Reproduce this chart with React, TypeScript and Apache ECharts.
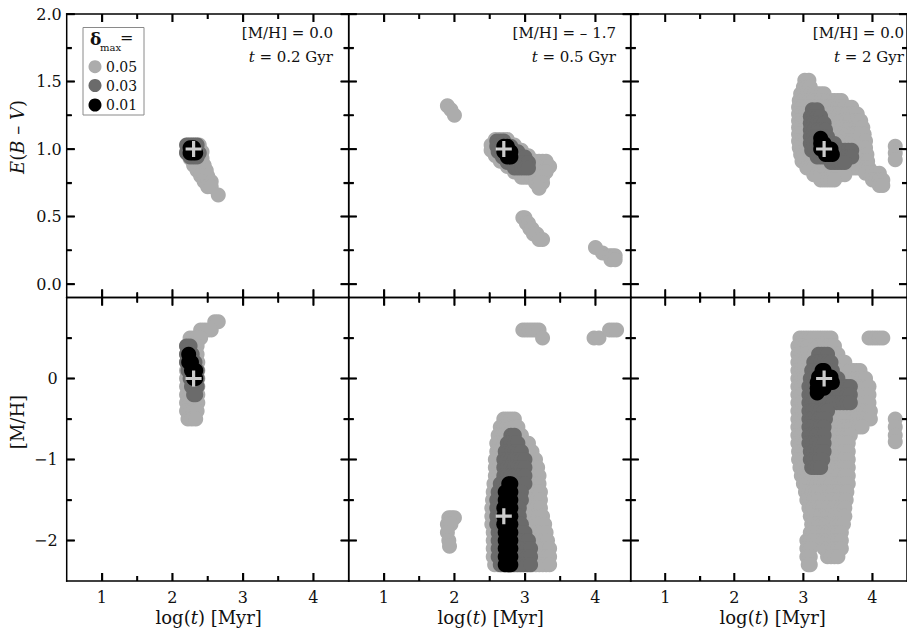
import React, { useEffect, useRef } from 'react';
import * as echarts from 'echarts';

const FONT = '"DejaVu Serif", serif';
const LIGHT = '#acacac';
const DARK = '#6b6b6b';
const BLACK = '#000000';
const INK = '#111111';

const X_MAJOR = [1, 2, 3, 4];
const X_MINOR = [1.5, 2.5, 3.5];
const EBV_MAJOR = [0, 0.5, 1.0, 1.5, 2.0];
const EBV_MINOR = [0.25, 0.75, 1.25, 1.75];
const MH_MAJOR = [-2, -1, 0];
const MH_MINOR = [-1.5, -0.5, 0.5];

const PANEL_MH = ['0.0', '\u2013 1.7', '0.0'];
const PANEL_AGE = ['0.2', '0.5', '2'];
const LEGEND_LEVELS = ['0.05', '0.03', '0.01'];

// true (input) parameters, white crosses: [log t, value]
const TRUE_VALUES = [[2.3, 1.0], [2.7, 1.0], [3.3, 1.0], [2.3, 0.0], [2.7, -1.7], [3.3, 0.0]];

// accepted grid models, rows: [value, log t first, log t last]
const P1_L = [[1.03, 2.22, 2.38], [0.98, 2.2, 2.42], [0.93, 2.25, 2.42], [0.88, 2.3, 2.45], [0.84, 2.35, 2.48], [0.8, 2.4, 2.5], [0.76, 2.45, 2.55], [0.72, 2.5, 2.55], [0.66, 2.65, 2.65]];
const P1_D = [[1.03, 2.2, 2.35], [0.97, 2.2, 2.38], [0.94, 2.25, 2.35]];
const P1_B = [[1.01, 2.25, 2.3], [0.97, 2.25, 2.33]];

const P2_L = [[1.32, 1.9, 1.9], [1.29, 1.95, 1.95], [1.25, 2.0, 2.0],
  [1.07, 2.58, 2.75], [1.03, 2.52, 2.85], [0.99, 2.52, 2.95], [0.95, 2.58, 3.05], [0.91, 2.65, 3.3], [0.87, 2.75, 3.35], [0.83, 2.85, 3.3], [0.79, 2.95, 3.25], [0.75, 3.15, 3.25], [0.71, 3.2, 3.2],
  [0.49, 2.97, 3.0], [0.45, 3.02, 3.05], [0.41, 3.07, 3.1], [0.37, 3.12, 3.17], [0.33, 3.2, 3.25],
  [0.27, 4.0, 4.02], [0.23, 4.1, 4.12], [0.21, 4.2, 4.28], [0.18, 4.22, 4.28]];
const P2_D = [[1.06, 2.6, 2.7], [1.02, 2.6, 2.8], [0.98, 2.62, 2.9], [0.94, 2.68, 3.0], [0.9, 2.75, 3.05], [0.86, 2.85, 3.05]];
const P2_B = [[1.02, 2.7, 2.75], [0.98, 2.7, 2.8], [0.94, 2.75, 2.8]];

const P3_L = [[1.51, 3.02, 3.08], [1.46, 3.0, 3.1], [1.41, 2.96, 3.3], [1.36, 2.94, 3.55], [1.31, 2.93, 3.7], [1.26, 2.93, 3.78], [1.21, 2.93, 3.83], [1.16, 2.93, 3.86], [1.11, 2.93, 3.88], [1.06, 2.93, 3.9], [1.01, 2.94, 3.9], [0.96, 2.96, 3.92], [0.91, 2.98, 3.93], [0.86, 3.05, 3.95], [0.81, 3.15, 3.6], [0.77, 3.25, 3.45],
  [0.82, 3.9, 4.1], [0.77, 4.0, 4.15], [0.73, 4.1, 4.15],
  [1.02, 4.33, 4.33], [0.97, 4.33, 4.33], [0.92, 4.33, 4.33]];
const P3_D = [[1.29, 3.13, 3.2], [1.24, 3.1, 3.25], [1.19, 3.1, 3.3], [1.14, 3.1, 3.32], [1.09, 3.1, 3.35], [1.04, 3.1, 3.45], [0.99, 3.12, 3.7], [0.94, 3.2, 3.7], [0.9, 3.4, 3.6]];
const P3_B = [[1.08, 3.25, 3.27], [1.04, 3.25, 3.3], [1.0, 3.25, 3.4], [0.96, 3.32, 3.42]];

const P4_L = [[0.7, 2.6, 2.65], [0.6, 2.4, 2.55], [0.5, 2.25, 2.4], [0.4, 2.2, 2.35], [0.3, 2.2, 2.35], [0.2, 2.2, 2.36], [0.1, 2.2, 2.36], [0.0, 2.2, 2.36], [-0.1, 2.2, 2.36], [-0.2, 2.2, 2.36], [-0.3, 2.2, 2.36], [-0.4, 2.2, 2.35], [-0.5, 2.22, 2.33]];
const P4_D = [[0.4, 2.2, 2.25], [0.3, 2.2, 2.28], [0.2, 2.2, 2.32], [0.1, 2.22, 2.35], [0.0, 2.25, 2.35], [-0.1, 2.27, 2.35], [-0.2, 2.3, 2.33]];
const P4_B = [[0.3, 2.23, 2.25], [0.2, 2.23, 2.27], [0.1, 2.27, 2.33], [0.0, 2.3, 2.33]];

const P5_L = [[0.6, 2.97, 3.2], [0.5, 3.25, 3.25], [0.5, 3.98, 4.05], [0.6, 4.2, 4.3],
  [-0.5, 2.7, 2.85], [-0.6, 2.65, 2.9], [-0.7, 2.62, 2.95], [-0.8, 2.6, 3.05], [-0.9, 2.6, 3.1], [-1.0, 2.58, 3.15], [-1.1, 2.58, 3.18], [-1.2, 2.58, 3.2], [-1.3, 2.56, 3.2], [-1.4, 2.55, 3.22], [-1.5, 2.54, 3.22], [-1.6, 2.53, 3.22], [-1.7, 2.53, 3.25], [-1.8, 2.53, 3.28], [-1.9, 2.55, 3.3], [-2.0, 2.55, 3.32], [-2.1, 2.55, 3.35], [-2.2, 2.55, 3.35], [-2.3, 2.57, 3.35],
  [-1.72, 1.92, 2.0], [-1.8, 1.9, 1.95], [-1.9, 1.9, 1.92], [-2.0, 1.92, 1.92], [-2.07, 1.93, 1.93]];
const P5_D = [[-0.7, 2.8, 2.85], [-0.8, 2.75, 2.9], [-0.9, 2.72, 2.95], [-1.0, 2.7, 3.0], [-1.1, 2.7, 3.0], [-1.2, 2.7, 3.0], [-1.3, 2.65, 3.0], [-1.4, 2.62, 2.95], [-1.5, 2.6, 2.95], [-1.6, 2.6, 2.92], [-1.7, 2.6, 2.92], [-1.8, 2.6, 2.95], [-1.9, 2.62, 3.0], [-2.0, 2.62, 3.05], [-2.1, 2.62, 3.08], [-2.2, 2.62, 3.08], [-2.3, 2.65, 3.08]];
const P5_B = [[-1.3, 2.77, 2.8], [-1.4, 2.72, 2.8], [-1.5, 2.72, 2.8], [-1.6, 2.7, 2.8], [-1.7, 2.7, 2.8], [-1.8, 2.7, 2.8], [-1.9, 2.72, 2.8], [-2.0, 2.72, 2.8], [-2.1, 2.72, 2.8], [-2.2, 2.72, 2.8], [-2.3, 2.72, 2.8]];

const P6_L = [[0.5, 2.95, 3.4], [0.4, 2.92, 3.45], [0.3, 2.92, 3.5], [0.2, 2.92, 3.6], [0.1, 2.92, 3.82], [0.0, 2.92, 3.9], [-0.1, 2.92, 3.95], [-0.2, 2.92, 3.95], [-0.3, 2.92, 3.95], [-0.4, 2.92, 3.97], [-0.5, 2.92, 3.97], [-0.6, 2.92, 3.85], [-0.7, 2.92, 3.68], [-0.8, 2.92, 3.65], [-0.9, 2.93, 3.65], [-1.0, 2.93, 3.65], [-1.1, 2.95, 3.65], [-1.2, 2.97, 3.65], [-1.3, 3.0, 3.65], [-1.4, 3.03, 3.63], [-1.5, 3.05, 3.62], [-1.6, 3.08, 3.6], [-1.7, 3.1, 3.6], [-1.8, 3.12, 3.58], [-1.9, 3.1, 3.55], [-2.0, 3.05, 3.55], [-2.1, 3.05, 3.1], [-2.1, 3.3, 3.55], [-2.2, 3.05, 3.1], [-2.2, 3.35, 3.5], [-2.3, 3.07, 3.1],
  [0.5, 3.95, 4.15], [-0.5, 4.33, 4.33], [-0.6, 4.33, 4.33], [-0.7, 4.33, 4.33], [-0.78, 4.33, 4.33]];
const P6_D = [[0.3, 3.22, 3.35], [0.2, 3.15, 3.4], [0.1, 3.12, 3.42], [0.0, 3.1, 3.5], [-0.1, 3.08, 3.68], [-0.2, 3.08, 3.68], [-0.3, 3.08, 3.68], [-0.4, 3.08, 3.35], [-0.5, 3.08, 3.32], [-0.6, 3.08, 3.3], [-0.7, 3.08, 3.3], [-0.8, 3.08, 3.3], [-0.9, 3.1, 3.3], [-1.0, 3.1, 3.28], [-1.1, 3.12, 3.25]];
const P6_B = [[0.1, 3.27, 3.3], [0.02, 3.22, 3.4], [-0.05, 3.2, 3.42], [-0.12, 3.2, 3.3], [-0.18, 3.2, 3.22]];

const PANELS = [
  [P1_L, P1_D, P1_B], [P2_L, P2_D, P2_B], [P3_L, P3_D, P3_B],
  [P4_L, P4_D, P4_B], [P5_L, P5_D, P5_B], [P6_L, P6_D, P6_B],
];

const GRID_STEP = 0.05; // model grid spacing in log t
function cells(rows: number[][]) {
  const out: number[][] = [];
  for (const [v, a, b] of rows) {
    const n = Math.round((b - a) / GRID_STEP);
    for (let i = 0; i <= n; i++) out.push([n ? a + ((b - a) * i) / n : a, v]);
  }
  return out;
}

const PLUS = 'path://M4,0H6V4H10V6H6V10H4V6H0V4H4Z';
const L0 = 66.7, W = 282, H = 283.5, TOPS = [14, 297.5];
const yRange = (r: number) => (r === 0 ? [-0.1, 2.0] : [-2.5, 1.0]);

export default function App() {
  const ref = useRef<HTMLDivElement>(null);
  useEffect(() => {
    if (!ref.current) return;
    const chart = echarts.init(ref.current, null, { renderer: 'svg' });
    const grids: any[] = [];
    const xAxes: any[] = [];
    const yAxes: any[] = [];
    const series: any[] = [];

    for (let p = 0; p < 6; p++) {
      const r = p < 3 ? 0 : 1;
      const c = p % 3;
      const [yMin, yMax] = yRange(r);
      const yMajor = r === 0 ? EBV_MAJOR : MH_MAJOR;
      const yMinor = r === 0 ? EBV_MINOR : MH_MINOR;
      grids.push({ left: L0 + c * W, top: TOPS[r], width: W, height: H, show: false });
      const xa = (position: string, vals: number[], len: number, label: boolean) => ({
        type: 'value', gridIndex: p, position, min: 0.5, max: 4.5,
        axisLine: { show: false, onZero: false }, splitLine: { show: false },
        axisTick: { show: true, inside: true, length: len, customValues: vals, lineStyle: { color: INK, width: 1.4 } },
        axisLabel: { show: label, customValues: vals, margin: 8, color: INK, fontFamily: FONT, fontSize: 16 },
      });
      const ya = (position: string, vals: number[], len: number, label: boolean) => ({
        type: 'value', gridIndex: p, position, min: yMin, max: yMax,
        axisLine: { show: false, onZero: false }, splitLine: { show: false },
        axisTick: { show: true, inside: true, length: len, customValues: vals, lineStyle: { color: INK, width: 1.4 } },
        axisLabel: {
          show: label, customValues: vals, margin: r === 0 ? 5 : 9, color: INK, fontFamily: FONT, fontSize: 16,
          formatter: (v: number) => (r === 0 ? v.toFixed(1) : v < 0 ? '\u2212' + Math.abs(v) : String(v)),
        },
      });
      const xi = xAxes.length;
      xAxes.push(xa('bottom', X_MAJOR, 8, r === 1), xa('bottom', X_MINOR, 5, false), xa('top', X_MAJOR, 8, false), xa('top', X_MINOR, 5, false));
      const yi = yAxes.length;
      yAxes.push(ya('left', yMajor, 8, c === 0), ya('left', yMinor, 5, false), ya('right', yMajor, 8, false), ya('right', yMinor, 5, false));

      const colors = [LIGHT, DARK, BLACK];
      PANELS[p].forEach((rows, k) => {
        series.push({ type: 'scatter', xAxisIndex: xi, yAxisIndex: yi, data: cells(rows), symbol: 'circle', symbolSize: 15, itemStyle: { color: colors[k], opacity: 1 }, silent: true, z: 2 + k, clip: false });
      });
      series.push({ type: 'scatter', xAxisIndex: xi, yAxisIndex: yi, data: [TRUE_VALUES[p]], symbol: PLUS, symbolSize: 16, itemStyle: { color: '#ffffff' }, silent: true, z: 6, clip: false });
    }

    const txt = (x: number, y: number, text: string, size: number, align: string, extra: any = {}) => ({
      type: 'text', x, y, z: 100,
      style: { text, fontSize: size, fontFamily: FONT, fill: INK, align, verticalAlign: 'middle', ...extra },
    });
    const ital = (size: number) => ({ i: { fontStyle: 'italic', fontSize: size, fontFamily: FONT, fill: INK }, n: { fontSize: size, fontFamily: FONT, fill: INK } });

    const graphic: any[] = [];
    const rights = [333, 616, 904];
    for (let c = 0; c < 3; c++) {
      graphic.push(txt(rights[c], 33, `{n|[M/H] = ${PANEL_MH[c]}}`, 15, 'right', { rich: ital(15) }));
      graphic.push(txt(rights[c], 57, `{i|t}{n| = ${PANEL_AGE[c]} Gyr}`, 15, 'right', { rich: ital(15) }));
      graphic.push(txt(L0 + c * W + W / 2 + 1, 617, '{n|log(}{i|t}{n|) [Myr]}', 18, 'center', { rich: ital(18) }));
    }
    graphic.push({ ...txt(17, 137, '{i|E}{n|(}{i|B}{n| \u2013 }{i|V}{n|)}', 18, 'center', { rich: ital(18) }), rotation: Math.PI / 2 });
    graphic.push({ ...txt(17, 422, '[M/H]', 18, 'center'), rotation: Math.PI / 2 });

    chart.setOption({
      animation: false,
      backgroundColor: '#ffffff',
      grid: grids,
      xAxis: xAxes,
      yAxis: yAxes,
      series,
    });

    // frames and tick marks, positioned through each grid's own axes
    const bar = (x: number, y: number, w: number, h: number) =>
      graphic.push({ type: 'rect', z: 90, silent: true, shape: { x, y, width: w, height: h }, style: { fill: '#000000' } });
    const T = 1.6;
    for (let p = 0; p < 6; p++) {
      const r = p < 3 ? 0 : 1;
      const c = p % 3;
      const [yMin, yMax] = yRange(r);
      const yMajor = r === 0 ? EBV_MAJOR : MH_MAJOR;
      const yMinor = r === 0 ? EBV_MINOR : MH_MINOR;
      const px = (x: number, y: number) => {
        const out = chart.convertToPixel({ gridIndex: p } as any, [x, y]) as any;
        if (out && isFinite(out[0]) && isFinite(out[1])) return [out[0], out[1]];
        const gx = L0 + c * W, gy = TOPS[r];
        return [gx + ((x - 0.5) / 4) * W, gy + ((yMax - y) / (yMax - yMin)) * H];
      };
      const [left, bottom] = px(0.5, yMin);
      const [right, top] = px(4.5, yMax);
      bar(left - 0.75, top - 0.75, right - left + 1.5, 1.5);
      bar(left - 0.75, bottom - 0.75, right - left + 1.5, 1.5);
      bar(left - 0.75, top - 0.75, 1.5, bottom - top + 1.5);
      bar(right - 0.75, top - 0.75, 1.5, bottom - top + 1.5);
      let d = '';
      const seg = (x1: number, y1: number, x2: number, y2: number) => { d += `M${x1.toFixed(2)} ${y1.toFixed(2)}L${x2.toFixed(2)} ${y2.toFixed(2)}`; };
      const xt = (vals: number[], len: number) => vals.forEach((v) => {
        const x = px(v, yMin)[0];
        bar(x - T / 2, bottom - len, T, len);
        bar(x - T / 2, top, T, len);
        seg(x, bottom, x, bottom - len); seg(x, top, x, top + len);
      });
      const yt = (vals: number[], len: number) => vals.forEach((v) => {
        const y = px(0.5, v)[1];
        bar(left, y - T / 2, len, T);
        bar(right - len, y - T / 2, len, T);
        seg(left, y, left + len, y); seg(right, y, right - len, y);
      });
      xt(X_MAJOR, 8); xt(X_MINOR, 5); yt(yMajor, 8); yt(yMinor, 5);
      const name = 'tickmarks' + p;
      echarts.graphic.registerShape(name, echarts.graphic.extendPath(d, {}) as any);
      graphic.push({ type: name, z: 91, silent: true, x: 0, y: 0, scaleX: 1, scaleY: 1, style: { stroke: '#000000', lineWidth: 1.5, fill: 'none' } });
    }

    // legend
    graphic.push({ type: 'rect', z: 99, shape: { x: 83, y: 27.5, width: 61, height: 87.5 }, style: { fill: '#ffffff', stroke: '#8a8a8a', lineWidth: 1 } });
    graphic.push(txt(90, 39, '\u03b4', 17, 'left', { fontWeight: 'bold' }));
    graphic.push(txt(100, 47, 'max', 10, 'left'));
    graphic.push(txt(120, 37, '=', 16, 'left'));
    const legendColors = [LIGHT, DARK, BLACK];
    const legendY = [66.7, 85.5, 105];
    for (let k = 0; k < 3; k++) {
      graphic.push({ type: 'circle', z: 100, shape: { cx: 95, cy: legendY[k], r: 6.5 }, style: { fill: legendColors[k] } });
      graphic.push(txt(106, legendY[k], LEGEND_LEVELS[k], 14, 'left'));
    }

    chart.setOption({ graphic });
    return () => chart.dispose();
  }, []);
  return <div ref={ref} style={{ position: 'absolute', left: 0, top: 0, width: 907, height: 633 }} />;
}
